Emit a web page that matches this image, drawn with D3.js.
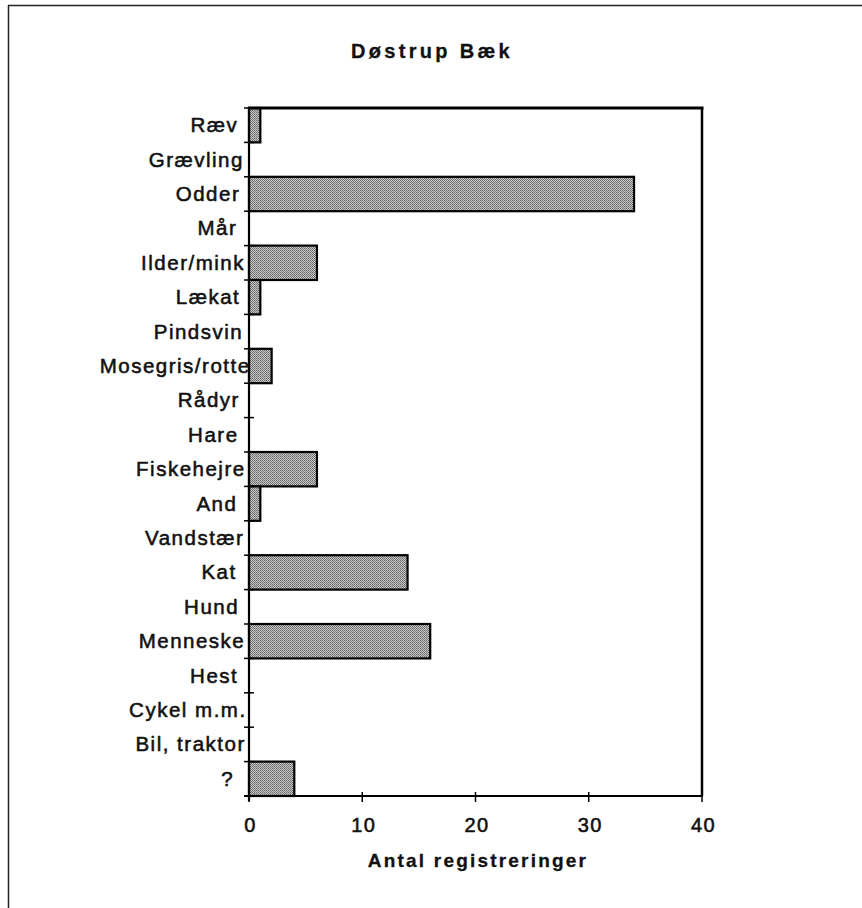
<!DOCTYPE html>
<html>
<head>
<meta charset="utf-8">
<script src="https://cdnjs.cloudflare.com/ajax/libs/d3/7.8.5/d3.min.js"></script>
<style>
  html, body { margin: 0; padding: 0; background: #fff; }
  svg { display: block; }
  text { font-family: "Liberation Sans", Arial, Helvetica, sans-serif; fill: #111; }
  .heavy { stroke: #111; stroke-width: 0.55px; }
</style>
</head>
<body>
<svg id="chart" width="862" height="908"></svg>
<script>
const categories = ["Ræv","Grævling","Odder","Mår","Ilder/mink","Lækat","Pindsvin","Mosegris/rotte","Rådyr","Hare","Fiskehejre","And","Vandstær","Kat","Hund","Menneske","Hest","Cykel m.m.","Bil, traktor","?"];
const values = [1,0,34,0,6,1,0,2,0,0,6,1,0,14,0,16,0,0,0,4];
const xTicks = [0,10,20,30,40];
const titleText = "Døstrup Bæk";
const xTitle = "Antal registreringer";

(function () {
const svg = d3.select("#chart");
const W = 862, H = 908;
const pL = 249, pR = 702, pT = 108, pB = 796;

const x = d3.scaleLinear().domain([0, 40]).range([pL, pR]);
const y = d3.scaleBand().domain(categories).range([pT, pB]).padding(0);

// stipple pattern
const defs = svg.append("defs");
const pat = defs.append("pattern").attr("id", "stipple")
  .attr("width", 2).attr("height", 2).attr("patternUnits", "userSpaceOnUse");
pat.append("rect").attr("width", 2).attr("height", 2).attr("fill", "#c8c8c8");
pat.append("rect").attr("x", 0).attr("y", 0).attr("width", 1).attr("height", 1).attr("fill", "#666");
pat.append("rect").attr("x", 1).attr("y", 1).attr("width", 1).attr("height", 1).attr("fill", "#7a7a7a");

// outer frame (left and top)
svg.append("line").attr("x1", 8.5).attr("x2", 8.5).attr("y1", 5).attr("y2", H)
  .attr("stroke", "#222").attr("stroke-width", 1.5);
svg.append("line").attr("x1", 8).attr("x2", W).attr("y1", 5.5).attr("y2", 5.5)
  .attr("stroke", "#222").attr("stroke-width", 1.5);

// title
svg.append("text").attr("x", 432).attr("y", 57.5).attr("text-anchor", "middle")
  .attr("font-size", 20).attr("font-weight", "bold").attr("letter-spacing", "3.3px")
  .attr("class", "heavy").style("stroke-width", "0.3px")
  .text(titleText);

// bars
svg.append("g").selectAll("rect").data(categories).join("rect")
  .attr("x", x(0))
  .attr("y", d => y(d))
  .attr("width", (d, i) => x(values[i]) - x(0))
  .attr("height", y.bandwidth())
  .attr("fill", "url(#stipple)")
  .attr("stroke", "#000").attr("stroke-width", 2.2)
  .attr("display", (d, i) => values[i] > 0 ? null : "none");

// plot frame top & right
svg.append("line").attr("x1", pL - 1).attr("x2", pR + 1.5).attr("y1", pT).attr("y2", pT)
  .attr("stroke", "#000").attr("stroke-width", 3);
svg.append("line").attr("x1", pR).attr("x2", pR).attr("y1", pT).attr("y2", pB)
  .attr("stroke", "#000").attr("stroke-width", 2.5);

// y axis
const yAxis = svg.append("g");
yAxis.append("line").attr("x1", pL).attr("x2", pL).attr("y1", pT).attr("y2", pB + 5)
  .attr("stroke", "#000").attr("stroke-width", 2.2);
const bounds = categories.map(c => y(c)).concat([pB]);
yAxis.selectAll("line.tk").data(bounds).join("line").attr("class", "tk")
  .attr("x1", pL - 5).attr("x2", pL + 5)
  .attr("y1", d => d).attr("y2", d => d)
  .attr("stroke", "#000").attr("stroke-width", 1.5);
const ls = 1.5;
yAxis.selectAll("text").data(categories).join("text")
  .attr("class", "heavy")
  .attr("y", d => y(d) + y.bandwidth() / 2 + 7)
  .attr("text-anchor", "end")
  .attr("font-size", 20.5).attr("letter-spacing", ls + "px")
  .text(d => d)
  .attr("x", function () {
    const w = this.getComputedTextLength();
    return 231 + 0.12 * w + ls;
  });

// x axis
const xAxis = svg.append("g");
xAxis.append("line").attr("x1", pL - 5).attr("x2", pR + 1).attr("y1", pB).attr("y2", pB)
  .attr("stroke", "#000").attr("stroke-width", 2.2);
xAxis.selectAll("line.tk").data(xTicks).join("line").attr("class", "tk")
  .attr("x1", d => x(d)).attr("x2", d => x(d))
  .attr("y1", pB - 4).attr("y2", pB + 6)
  .attr("stroke", "#000").attr("stroke-width", 1.5);
xAxis.selectAll("text").data(xTicks).join("text")
  .attr("class", "heavy")
  .attr("x", d => x(d) + 1.5)
  .attr("y", 832)
  .attr("text-anchor", "middle")
  .attr("font-size", 20).attr("letter-spacing", "1.5px")
  .text(d => d);

svg.append("text").attr("x", 478).attr("y", 867).attr("text-anchor", "middle")
  .attr("font-size", 19).attr("font-weight", "bold").attr("letter-spacing", "2.2px")
  .attr("class", "heavy").style("stroke-width", "0.3px")
  .text(xTitle);
})();
</script>
</body>
</html>
